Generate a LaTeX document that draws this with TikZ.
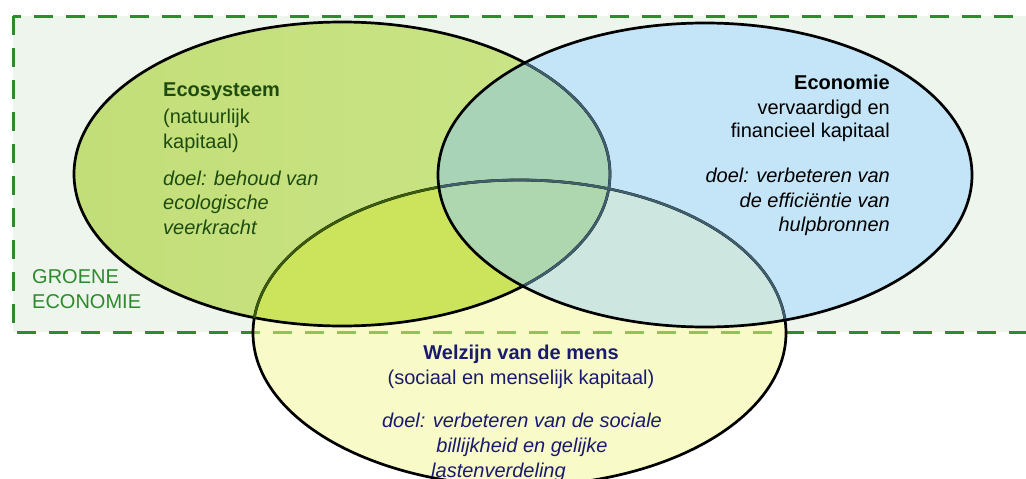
\documentclass[tikz,border=0pt]{standalone}
\usepackage{fontspec}
\setmainfont{Liberation Sans}
\definecolor{rectbg}{HTML}{EDF5EC}
\definecolor{dashgreen}{HTML}{2E8B2E}
\definecolor{dashlight}{HTML}{8CC45E}
\definecolor{cGl}{HTML}{C2DE78}
\definecolor{cGr}{HTML}{CBE587}
\definecolor{cB}{HTML}{C4E4F7}
\definecolor{cY}{HTML}{F8FBC7}
\definecolor{cGY}{HTML}{CBE45C}
\definecolor{cGB}{HTML}{A9D3B6}
\definecolor{cBY}{HTML}{CDE6E0}
\definecolor{cGBY}{HTML}{AED6AF}
\definecolor{olivel}{HTML}{3A5A0C}
\definecolor{bluegray}{HTML}{3F5F6E}
\definecolor{ecogreen}{HTML}{1E4C10}
\definecolor{navy}{HTML}{1A1A6E}
\definecolor{labgreen}{HTML}{2D8A2D}
\begin{document}
\begin{tikzpicture}[x=1pt,y=-1pt,
  outline/.style={draw=black,line width=2.7pt},
  tinted/.style={line width=2.4pt},
  dashbox/.style={line width=3pt,dash pattern=on 19pt off 13pt},
  txt/.style={inner sep=0pt,font=\fontsize{20}{24}\selectfont},
  txtb/.style={txt,font=\fontsize{20}{24}\selectfont\bfseries},
  txti/.style={txt,font=\fontsize{20}{24}\selectfont\itshape}]
\useasboundingbox (0,0) rectangle (1026,479);
\def\Gp{(342,174) ellipse [x radius=268, y radius=152]}
\def\Bp{(705,175) ellipse [x radius=267, y radius=152]}
\def\Yp{(519.5,333) ellipse [x radius=266.5, y radius=153]}
% background box
\fill[rectbg] (13,16) rectangle (1045,332);
% region fills
\shade[left color=cGl,right color=cGr] \Gp;
\fill[cB] \Bp;
\fill[cY] \Yp;
\begin{scope}
  \clip \Bp;
  \fill[cBY] \Yp;
\end{scope}
\begin{scope}
  \clip \Gp;
  \fill[cGB] \Bp;
  \fill[cGY] \Yp;
  \clip \Bp;
  \fill[cGBY] \Yp;
\end{scope}
% dashed box
\draw[dashbox,draw=dashgreen] (13,16) rectangle (1045,332);
\begin{scope}
  \clip \Yp;
  \draw[dashbox,draw=dashlight] (13,16) rectangle (1045,332);
\end{scope}
% outlines
\draw[outline] \Yp;
\draw[outline] \Gp;
\begin{scope}
  \clip \Gp;
  \draw[tinted,draw=olivel] \Yp;
\end{scope}
\begin{scope}
  \clip \Bp;
  \draw[tinted,draw=bluegray] \Yp;
  \draw[tinted,draw=bluegray] \Gp;
\end{scope}
\draw[outline] \Bp;
% Ecosysteem text
\node[txtb,text=ecogreen,anchor=base west] (e1) at (163,96) {Ecosysteem};
\node[txt,text=ecogreen,anchor=base west] (e2) at (163,123) {(natuurlijk};
\node[txt,text=ecogreen,anchor=base west] (e3) at (163,148) {kapitaal)};
\node[txti,text=ecogreen,anchor=base west] (e4) at (163,185) {doel: behoud van};
\node[txti,text=ecogreen,anchor=base west] (e5) at (163,209) {ecologische};
\node[txti,text=ecogreen,anchor=base west] (e6) at (163,234) {veerkracht};
% Economie text
\node[txtb,text=black,anchor=base east] (c1) at (890,89) {Economie};
\node[txt,text=black,anchor=base east] (c2) at (890,114) {vervaardigd en};
\node[txt,text=black,anchor=base east] (c3) at (890,137) {financieel kapitaal};
\node[txti,text=black,anchor=base east] (c4) at (890,182) {doel: verbeteren van};
\node[txti,text=black,anchor=base east] (c5) at (890,207) {de efficiëntie van};
\node[txti,text=black,anchor=base east] (c6) at (890,231) {hulpbronnen};
% Welzijn text
\node[txtb,text=navy,anchor=base] (w1) at (521,359) {Welzijn van de mens};
\node[txt,text=navy,anchor=base] (w2) at (521,384) {(sociaal en menselijk kapitaal)};
\node[txti,text=navy,anchor=base] (w3) at (522,427) {doel: verbeteren van de sociale};
\node[txti,text=navy,anchor=base] (w4) at (522,452) {billijkheid en gelijke};
\node[txti,text=navy,anchor=base west] (w5) at (431,477) {lastenverdeling};
% label
\node[txt,text=labgreen,anchor=base west] (g1) at (32,283) {GROENE};
\node[txt,text=labgreen,anchor=base west] (g2) at (32,308) {ECONOMIE};
\end{tikzpicture}
\end{document}
